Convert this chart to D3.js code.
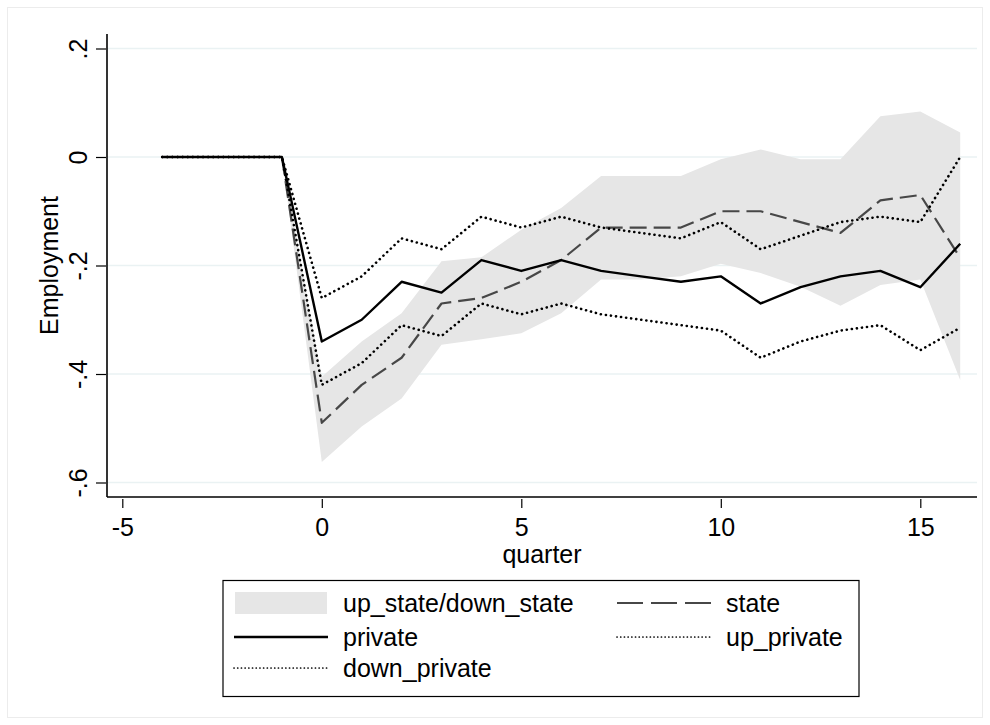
<!DOCTYPE html>
<html lang="en">
<head>
    <meta charset="UTF-8">
    <title>Employment by quarter</title>
    <script src="https://cdn.jsdelivr.net/npm/d3@7"></script>
    <style>
        body { margin: 0; background: #fff; }
        text { font-family: "Liberation Sans", Arial, sans-serif; fill: #000; }
    </style>
</head>
<body>

<script>

    const width = 990;
    const height = 725;

    // data
    const quarters = [-4, -3, -2, -1, 0, 1, 2, 3, 4, 5, 6, 7, 8, 9, 10, 11, 12, 13, 14, 15, 16];
    const privateVals = [0, 0, 0, 0, -0.34, -0.30, -0.23, -0.25, -0.19, -0.21, -0.19, -0.21, -0.22, -0.23, -0.22, -0.27, -0.24, -0.22, -0.21, -0.24, -0.16];
    const stateVals = [0, 0, 0, 0, -0.49, -0.42, -0.37, -0.27, -0.26, -0.23, -0.19, -0.13, -0.13, -0.13, -0.10, -0.10, -0.12, -0.14, -0.08, -0.07, -0.186];
    const upPrivate = [0, 0, 0, 0, -0.26, -0.22, -0.15, -0.17, -0.11, -0.13, -0.11, -0.13, -0.14, -0.15, -0.12, -0.17, -0.145, -0.12, -0.11, -0.12, 0.00];
    const downPrivate = [0, 0, 0, 0, -0.42, -0.38, -0.31, -0.33, -0.27, -0.29, -0.27, -0.29, -0.30, -0.31, -0.32, -0.37, -0.34, -0.32, -0.31, -0.356, -0.315];
    const upState = [0, 0, 0, 0, -0.405, -0.34, -0.288, -0.192, -0.185, -0.134, -0.094, -0.035, -0.035, -0.035, -0.004, 0.014, -0.004, -0.004, 0.075, 0.084, 0.045];
    const downState = [0, 0, 0, 0, -0.562, -0.497, -0.445, -0.346, -0.336, -0.325, -0.288, -0.226, -0.226, -0.22, -0.197, -0.214, -0.239, -0.274, -0.236, -0.226, -0.411];

    const xTicks = [-5, 0, 5, 10, 15];
    const xTickLabels = ["-5", "0", "5", "10", "15"];
    const yTicks = [0.2, 0, -0.2, -0.4, -0.6];
    const yTickLabels = [".2", "0", "-.2", "-.4", "-.6"];

    const plot = {left: 107, right: 977, top: 34, bottom: 497};

    const x = d3.scaleLinear().domain([-5, 15]).range([122.3, 920.3]);
    const y = d3.scaleLinear().domain([0.2, -0.6]).range([48.5, 482.5]);

    const svg = d3.select("body").append("svg")
        .attr("width", width)
        .attr("height", height);

    // faint outer frame
    svg.append("rect")
        .attr("x", 7.5).attr("y", 7.5)
        .attr("width", 975).attr("height", 710)
        .attr("fill", "none")
        .attr("stroke", "#ececec");

    // gridlines
    svg.append("g")
        .selectAll("line")
        .data(yTicks)
        .join("line")
        .attr("x1", plot.left).attr("x2", plot.right)
        .attr("y1", d => y(d)).attr("y2", d => y(d))
        .attr("stroke", "#eaf2f3")
        .attr("stroke-width", 1.6);

    const rows = quarters.map((q, i) => ({
        q, priv: privateVals[i], state: stateVals[i], up: upPrivate[i], down: downPrivate[i],
        hi: upState[i], lo: downState[i]
    }));

    const area = d3.area()
        .x(d => x(d.q))
        .y0(d => y(d.lo))
        .y1(d => y(d.hi));

    svg.append("path")
        .datum(rows)
        .attr("fill", "#e6e6e6")
        .attr("d", area);

    const series = [
        {key: "state", color: "#474747", width: 2.2, dash: "17,7", cap: "butt"},
        {key: "priv", color: "#000", width: 2.4, dash: null, cap: "butt"},
        {key: "up", color: "#000", width: 2.6, dash: "0.1,5", cap: "round"},
        {key: "down", color: "#000", width: 2.6, dash: "0.1,5", cap: "round"}
    ];

    series.forEach(s => {
        const line = d3.line().x(d => x(d.q)).y(d => y(d[s.key]));
        svg.append("path")
            .datum(rows)
            .attr("fill", "none")
            .attr("stroke", s.color)
            .attr("stroke-width", s.width)
            .attr("stroke-dasharray", s.dash)
            .attr("stroke-linecap", s.cap)
            .attr("stroke-linejoin", "round")
            .attr("d", line);
    });

    // axes
    const yAxis = svg.append("g")
        .attr("transform", `translate(${plot.left - 1},0)`)
        .call(d3.axisLeft(y).tickValues(yTicks).tickSize(10).tickSizeOuter(0)
            .tickFormat((d, i) => yTickLabels[i]));
    yAxis.select(".domain").remove();
    yAxis.selectAll(".tick line").attr("stroke", "#000").attr("stroke-width", 1.2);
    yAxis.selectAll(".tick text")
        .attr("x", null).attr("dy", null)
        .attr("transform", "translate(-19,0) rotate(-90)")
        .attr("text-anchor", "middle")
        .attr("font-size", 25);

    const xAxis = svg.append("g")
        .attr("transform", `translate(0,${plot.bottom + 2})`)
        .call(d3.axisBottom(x).tickValues(xTicks).tickSize(9).tickSizeOuter(0)
            .tickFormat((d, i) => xTickLabels[i]));
    xAxis.select(".domain").remove();
    xAxis.selectAll(".tick line").attr("stroke", "#000").attr("stroke-width", 1.2);
    xAxis.selectAll(".tick text")
        .attr("y", 37).attr("dy", null)
        .attr("font-size", 25);

    svg.append("line")
        .attr("x1", plot.left).attr("x2", plot.left)
        .attr("y1", plot.top).attr("y2", plot.bottom)
        .attr("stroke", "#000").attr("stroke-width", 1.6);
    svg.append("line")
        .attr("x1", plot.left).attr("x2", plot.right)
        .attr("y1", plot.bottom).attr("y2", plot.bottom)
        .attr("stroke", "#000").attr("stroke-width", 1.6);

    svg.append("text")
        .attr("transform", `translate(58,${(plot.top + plot.bottom) / 2}) rotate(-90)`)
        .attr("text-anchor", "middle")
        .attr("font-size", 25)
        .text("Employment");

    svg.append("text")
        .attr("x", (plot.left + plot.right) / 2)
        .attr("y", 563)
        .attr("text-anchor", "middle")
        .attr("font-size", 25)
        .text("quarter");

    // legend
    const legend = svg.append("g");
    legend.append("rect")
        .attr("x", 223).attr("y", 580.5)
        .attr("width", 636).attr("height", 116)
        .attr("fill", "#fff")
        .attr("stroke", "#000")
        .attr("stroke-width", 1.2);

    const items = [
        {label: "up_state/down_state", col: 0, row: 0, kind: "band"},
        {label: "state", col: 1, row: 0, kind: "state"},
        {label: "private", col: 0, row: 1, kind: "priv"},
        {label: "up_private", col: 1, row: 1, kind: "up"},
        {label: "down_private", col: 0, row: 2, kind: "down"}
    ];
    const colX = [234, 617];
    const rowY = [603, 637, 668];

    items.forEach(it => {
        const x0 = colX[it.col], cy = rowY[it.row];
        if (it.kind === "band") {
            legend.append("rect")
                .attr("x", x0 + 1).attr("y", cy - 11)
                .attr("width", 92).attr("height", 22)
                .attr("fill", "#e6e6e6");
        } else {
            const s = series.find(d => d.key === it.kind);
            const dotted = it.kind === "up" || it.kind === "down";
            legend.append("line")
                .attr("x1", x0).attr("x2", x0 + 94)
                .attr("y1", cy).attr("y2", cy)
                .attr("stroke", s.color)
                .attr("stroke-width", dotted ? 1.7 : s.width)
                .attr("stroke-dasharray", it.kind === "state" ? "26,8" : (dotted ? "0.1,3.6" : null))
                .attr("stroke-linecap", s.cap);
        }
        legend.append("text")
            .attr("x", x0 + 109)
            .attr("y", cy + 9)
            .attr("font-size", 25)
            .text(it.label);
    });

</script>

</body>
</html>
